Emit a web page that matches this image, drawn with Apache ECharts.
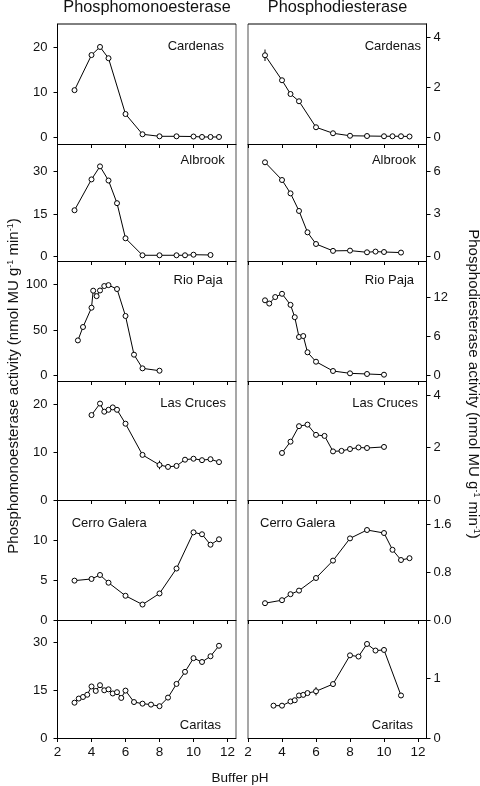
<!DOCTYPE html>
<html><head><meta charset="utf-8">
<script src="https://cdn.jsdelivr.net/npm/echarts@6/dist/echarts.min.js"></script>
<style>html,body{margin:0;padding:0;background:#fff}#c{width:480px;height:786px}</style>
</head><body><div id="c"></div>
<script>
// ---------- data ----------
const sites = ['Cardenas', 'Albrook', 'Rio Paja', 'Las Cruces', 'Cerro Galera', 'Caritas'];
const xTicks = [2, 4, 6, 8, 10, 12];
const monoTicks = [[0, 10, 20], [0, 15, 30], [0, 50, 100], [0, 10, 20], [0, 5, 10], [0, 15, 30]];
const diTicks = [[0, 2, 4], [0, 3, 6], [0, 6, 12], [0, 2, 4], [0, 0.8, 1.6], [0, 1]];

const cardenasMono = [[3,10.4],[4,18.2],[4.5,20.0],[5,17.5],[6,5.1],[7,0.6],[8,0.15],[9,0.15],[10,0.1],[10.5,0],[11,0],[11.5,0]];
const cardenasDi = [[3,3.27],[4,2.27],[4.5,1.72],[5,1.43],[6,0.39],[7,0.15],[8,0.05],[9,0.04],[10,0.03],[10.5,0.03],[11,0.03],[11.5,0.02]];
const albrookMono = [[3,16.4],[4,27.3],[4.5,31.9],[5,26.9],[5.5,18.9],[6,6.5],[7,0.5],[8,0.5],[9,0.5],[9.5,0.5],[10,0.7],[11,0.6]];
const albrookDi = [[3,6.66],[4,5.40],[4.5,4.45],[5,3.2],[5.5,1.68],[6,0.85],[7,0.36],[8,0.38],[9,0.26],[9.5,0.31],[10,0.28],[11,0.24]];
const rioPajaMono = [[3.2,38.8],[3.5,53.5],[4,74.7],[4.1,93.4],[4.3,87.4],[4.5,93.6],[4.75,98.5],[5,99.5],[5.5,95.2],[6,65.6],[6.5,23.1],[7,8.1],[8,5.5]];
const rioPajaDi = [[3,11.6],[3.25,11.1],[3.6,12.1],[4,12.6],[4.5,10.9],[4.75,9.0],[5,5.95],[5.25,6.1],[5.5,3.6],[6,2.15],[7,0.72],[8,0.36],[9,0.26],[10,0.15]];
const lasCrucesMono = [[4,17.7],[4.5,20.1],[4.75,18.4],[5,18.8],[5.25,19.3],[5.5,18.8],[6,15.9],[7,9.4],[8,7.3],[8.5,6.9],[9,7.1],[9.5,8.4],[10,8.6],[10.5,8.3],[11,8.5],[11.5,7.9]];
const lasCrucesDi = [[4,1.79],[4.5,2.22],[5,2.81],[5.5,2.87],[6,2.48],[6.5,2.44],[7,1.85],[7.5,1.87],[8,1.94],[8.5,2.0],[9,1.98],[10,2.02]];
const cerroGaleraMono = [[3,4.94],[4,5.15],[4.5,5.65],[5,4.68],[6,3.04],[7,1.94],[8,3.33],[9,6.46],[10,11.0],[10.5,10.76],[11,9.45],[11.5,10.13]];
const cerroGaleraDi = [[3,0.28],[4,0.33],[4.5,0.43],[5,0.49],[6,0.70],[7,0.99],[8,1.36],[9,1.50],[10,1.45],[10.5,1.17],[11,1.0],[11.5,1.03]];
const caritasMono = [[3,11.1],[3.25,12.4],[3.5,12.9],[3.75,13.6],[4,16.2],[4.25,14.8],[4.5,16.6],[4.75,15.0],[5,15.3],[5.25,14.0],[5.5,14.4],[5.75,12.6],[6,14.9],[6.5,11.3],[7,10.8],[7.5,10.5],[8,10.0],[8.5,12.7],[9,17.0],[9.5,20.8],[10,25.1],[10.5,23.9],[11,25.7],[11.5,29.0]];
const caritasDi = [[3.5,0.54],[4,0.54],[4.5,0.61],[4.75,0.63],[5,0.71],[5.25,0.72],[5.5,0.75],[6,0.78],[7,0.9],[8,1.38],[8.5,1.36],[9,1.57],[9.5,1.46],[10,1.47],[11,0.71]];

// error bars: [pH, value, half-width]
const cardenasDiErr = [[3, 3.27, 0.23]];
const albrookDiErr = [[3, 6.66, 0.15]];
const lasCrucesMonoErr = [[8, 7.3, 0.9]];
const caritasDiErr = [[6, 0.78, 0.07]];

const monoData = [cardenasMono, albrookMono, rioPajaMono, lasCrucesMono, cerroGaleraMono, caritasMono];
const diData = [cardenasDi, albrookDi, rioPajaDi, lasCrucesDi, cerroGaleraDi, caritasDi];
const monoErr = [[], [], [], lasCrucesMonoErr, [], []];
const diErr = [cardenasDiErr, albrookDiErr, [], [], [], caritasDiErr];

// ---------- layout ----------
const FONT = 'Liberation Sans, Arial, Helvetica, sans-serif';
const colLeft = [57.5, 248], colWidth = 178.5;
const rowTop = [24, 144, 261, 381, 500, 620], rowBottom = [144, 261, 381, 500, 620, 738];
const monoRange = [[-1.56, 25.1], [-1.52, 39.8], [-5.8, 126], [0, 24.8], [0, 15.06], [0, 37.1]];
const diRange = [[-0.28, 4.52], [-0.36, 7.96], [-0.82, 17.65], [0, 4.53], [0, 2.0], [0, 1.97]];
const monoLabelPos = [[224, 46, 'right'], [224.7, 160, 'right'], [222.7, 280, 'right'], [226, 403, 'right'], [71.7, 523, 'left'], [221, 725, 'right']];
const diLabelPos = [[421, 46, 'right'], [416, 160, 'right'], [414, 280, 'right'], [418, 403, 'right'], [260, 523, 'left'], [413, 725, 'right']];

const grids = [], xAxes = [], yAxes = [], series = [], graphics = [];
const black = '#000';

for (let r = 0; r < 6; r++) {
  for (let c = 0; c < 2; c++) {
    const gi = grids.length;
    grids.push({ left: colLeft[c], width: colWidth, top: rowTop[r], height: rowBottom[r] - rowTop[r], containLabel: false });
    xAxes.push({
      gridIndex: gi, type: 'value', min: 2, max: 12.5, position: 'bottom', z: 5,
      axisLine: { show: true, onZero: false, lineStyle: { color: black, width: 1 } },
      axisTick: { show: true, inside: false, length: 4, customValues: xTicks, lineStyle: { color: black, width: 1 } },
      axisLabel: { show: r === 5, customValues: xTicks, fontSize: 13.5, margin: 7, color: '#111', fontFamily: FONT },
      splitLine: { show: false }
    });
    const range = c === 0 ? monoRange[r] : diRange[r];
    const ticks = c === 0 ? monoTicks[r] : diTicks[r];
    const isDec = (c === 1 && r === 4);
    yAxes.push({
      gridIndex: gi, type: 'value', min: range[0], max: range[1], position: c === 0 ? 'left' : 'right', z: 5,
      axisLine: { show: true, onZero: false, lineStyle: { color: black, width: 1 } },
      axisTick: { show: true, inside: false, length: 4, customValues: ticks, lineStyle: { color: black, width: 1 } },
      axisLabel: { show: true, customValues: ticks, fontSize: 13, margin: c === 0 ? 10 : 7, color: '#111', fontFamily: FONT,
        formatter: v => isDec ? v.toFixed(1) : String(Math.round(v * 100) / 100) },
      splitLine: { show: false }
    });
    const errs = c === 0 ? monoErr[r] : diErr[r];
    if (errs.length) {
      series.push({
        type: 'custom', xAxisIndex: gi, yAxisIndex: gi, z: 1, silent: true, data: errs,
        renderItem: (params, api) => {
          const x = api.value(0), y = api.value(1), e = api.value(2);
          const p1 = api.coord([x, y - e]), p2 = api.coord([x, y + e]);
          return { type: 'line', shape: { x1: p1[0], y1: p1[1], x2: p2[0], y2: p2[1] }, style: { stroke: black, lineWidth: 1 } };
        }
      });
    }
    series.push({
      type: 'line', xAxisIndex: gi, yAxisIndex: gi, z: 2, silent: true,
      data: c === 0 ? monoData[r] : diData[r],
      symbol: 'circle', symbolSize: 5, showSymbol: true,
      itemStyle: { color: '#fff', borderColor: black, borderWidth: 1 },
      lineStyle: { color: black, width: 1 },
      emphasis: { disabled: true }
    });
    const lp = c === 0 ? monoLabelPos[r] : diLabelPos[r];
    graphics.push({ type: 'text', x: lp[0], y: lp[1], z: 10,
      style: { text: sites[r], fontSize: 13, fontFamily: FONT, fill: '#111', textAlign: lp[2], textVerticalAlign: 'middle' } });
  }
}

// panel frame pieces
graphics.push({ type: 'line', z: 4, shape: { x1: 236, y1: 24, x2: 236, y2: 738 }, style: { stroke: '#8a8a8a', lineWidth: 1.5 } });
graphics.push({ type: 'line', z: 4, shape: { x1: 248, y1: 24, x2: 248, y2: 738 }, style: { stroke: '#8a8a8a', lineWidth: 1.5 } });
graphics.push({ type: 'line', z: 6, shape: { x1: 57.5, y1: 24, x2: 236, y2: 24 }, style: { stroke: black, lineWidth: 1 } });
graphics.push({ type: 'line', z: 6, shape: { x1: 248, y1: 24, x2: 427, y2: 24 }, style: { stroke: black, lineWidth: 1 } });

// titles
graphics.push({ type: 'text', x: 147, y: 8, style: { text: 'Phosphomonoesterase', fontSize: 16.3, fontFamily: FONT, fill: '#111', textAlign: 'center', textVerticalAlign: 'middle' } });
graphics.push({ type: 'text', x: 337.5, y: 8, style: { text: 'Phosphodiesterase', fontSize: 16.3, fontFamily: FONT, fill: '#111', textAlign: 'center', textVerticalAlign: 'middle' } });
graphics.push({ type: 'text', x: 240, y: 778, style: { text: 'Buffer pH', fontSize: 13.5, fontFamily: FONT, fill: '#111', textAlign: 'center', textVerticalAlign: 'middle' } });

const supRich = { sup: { fontSize: 9, fontFamily: FONT, fill: '#111', verticalAlign: 'top', lineHeight: 16 }, n: { fontSize: 15, fontFamily: FONT, fill: '#111', lineHeight: 16 } };
graphics.push({ type: 'text', x: 14, y: 386, rotation: Math.PI / 2,
  style: { text: '{n|Phosphomonoesterase activity (nmol MU g}{sup|-1}{n| min}{sup|-1}{n|)}', rich: supRich, fontSize: 15, fontFamily: FONT, fill: '#111', textAlign: 'center', textVerticalAlign: 'middle' } });
graphics.push({ type: 'text', x: 473, y: 384, rotation: -Math.PI / 2,
  style: { text: '{n|Phosphodiesterase activity (nmol MU g}{sup|-1}{n| min}{sup|-1}{n|)}', rich: supRich, fontSize: 15, fontFamily: FONT, fill: '#111', textAlign: 'center', textVerticalAlign: 'middle' } });

const chart = echarts.init(document.getElementById('c'), null, { renderer: 'canvas' });
chart.setOption({
  animation: false,
  backgroundColor: '#fff',
  grid: grids, xAxis: xAxes, yAxis: yAxes, series: series, graphic: graphics
});
</script></body></html>
